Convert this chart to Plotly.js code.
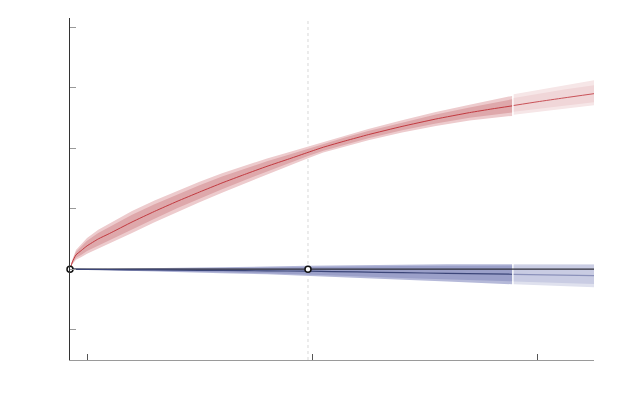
<!DOCTYPE html>
<html>
<head>
<meta charset="utf-8">
<script src="https://cdn.plot.ly/plotly-3.0.1.min.js"></script>
<style>html,body{margin:0;padding:0;background:#fff;}#chart{width:623px;height:415px;}</style>
</head>
<body>
<div id="chart"></div>
<script>
// ---- data ----
const redX = [-7.56, -6.5, -4.9, -2.5, 0, 5, 10, 20, 30, 40, 50, 60, 70, 80, 90, 98.2, 105, 115, 125, 140, 155, 170, 180, 188.9];
const redMedian = [0, 0.12, 0.236, 0.31, 0.385, 0.50, 0.59, 0.78, 0.955, 1.12, 1.275, 1.425, 1.565, 1.70, 1.825, 1.93, 2.015, 2.122, 2.223, 2.359, 2.481, 2.587, 2.648, 2.698];
const redUpperOuter = [0, 0.16, 0.316, 0.42, 0.515, 0.65, 0.755, 0.96, 1.135, 1.295, 1.445, 1.585, 1.71, 1.83, 1.935, 2.025, 2.103, 2.21, 2.315, 2.459, 2.596, 2.717, 2.798, 2.863];
const redLowerOuter = [0, 0.08, 0.156, 0.20, 0.255, 0.35, 0.425, 0.60, 0.775, 0.945, 1.105, 1.265, 1.42, 1.57, 1.715, 1.835, 1.927, 2.034, 2.131, 2.259, 2.366, 2.457, 2.498, 2.533];
const redUpperInner = [0, 0.145, 0.286, 0.38, 0.47, 0.60, 0.70, 0.90, 1.075, 1.235, 1.385, 1.53, 1.66, 1.785, 1.895, 1.99, 2.072, 2.179, 2.283, 2.424, 2.556, 2.672, 2.748, 2.808];
const redLowerInner = [0, 0.095, 0.186, 0.24, 0.30, 0.40, 0.48, 0.66, 0.835, 1.005, 1.165, 1.32, 1.47, 1.615, 1.755, 1.87, 1.958, 2.065, 2.163, 2.294, 2.406, 2.502, 2.548, 2.588];

const redFcX = [189.6, 200, 212, 225.3];
const redFcMedian = [2.705, 2.765, 2.83, 2.90];
const redFcUpperOuter = [2.89, 2.96, 3.04, 3.12];
const redFcLowerOuter = [2.55, 2.595, 2.65, 2.71];
const redFcUpperInner = [2.83, 2.895, 2.97, 3.04];
const redFcLowerInner = [2.60, 2.645, 2.70, 2.76];

const blueX = [-7.56, 0, 20, 40, 60, 80, 98.2, 120, 140, 160, 188.9];
const blueMedian = [0, -0.003, -0.01, -0.015, -0.021, -0.027, -0.033, -0.045, -0.057, -0.068, -0.083];
const blueUpperOuter = [0, 0.003, 0.01, 0.018, 0.03, 0.044, 0.058, 0.068, 0.075, 0.08, 0.083];
const blueLowerOuter = [0, -0.01, -0.028, -0.045, -0.065, -0.085, -0.105, -0.14, -0.175, -0.205, -0.248];
const blueUpperInner = [0, 0.001, 0.005, 0.01, 0.018, 0.028, 0.038, 0.046, 0.052, 0.057, 0.06];
const blueLowerInner = [0, -0.007, -0.022, -0.037, -0.052, -0.068, -0.085, -0.115, -0.145, -0.17, -0.2];

const blueFcX = [189.6, 225.3];
const blueFcMedian = [-0.084, -0.106];
const blueFcUpperOuter = [0.085, 0.088];
const blueFcLowerOuter = [-0.25, -0.298];
const blueFcUpperInner = [0.065, 0.07];
const blueFcLowerInner = [-0.205, -0.245];

const baselineX = [-7.56, 225.3];
const baselineY = [0, 0];
const markerX = [-7.56, 98.2];
const markerY = [0, 0];
const refX = 98.2;

const xTicks = [0, 100, 200];
const yTicks = [-1, 0, 1, 2, 3, 4];

// ---- helpers ----
function band(x, up, lo, color) {
  return {
    x: x.concat(x.slice().reverse()),
    y: up.concat(lo.slice().reverse()),
    type: 'scatter', mode: 'lines', fill: 'toself',
    fillcolor: color, line: {width: 0}, hoverinfo: 'skip', showlegend: false
  };
}
function line(x, y, color, w) {
  return {x: x, y: y, type: 'scatter', mode: 'lines', line: {color: color, width: w, shape: 'spline', smoothing: 0.5}, showlegend: false, hoverinfo: 'skip'};
}

const traces = [
  band(redX, redUpperOuter, redLowerOuter, '#edcbcd'),
  band(redX, redUpperInner, redLowerInner, '#dea8ab'),
  band(redFcX, redFcUpperOuter, redFcLowerOuter, '#f6e6e7'),
  band(redFcX, redFcUpperInner, redFcLowerInner, '#f0d6d8'),
  band(blueX, blueUpperOuter, blueLowerOuter, '#b5b9d9'),
  band(blueX, blueUpperInner, blueLowerInner, '#9ba0c9'),
  band(blueFcX, blueFcUpperOuter, blueFcLowerOuter, '#dfe1ee'),
  band(blueFcX, blueFcUpperInner, blueFcLowerInner, '#c9cce3'),
  line(baselineX, baselineY, '#2e2e38', 1.2),
  line(blueX, blueMedian, '#3c4679', 1.2),
  line(blueFcX, blueFcMedian, '#8b91ba', 1.2),
  line(redX, redMedian, '#c2393f', 1),
  line(redFcX, redFcMedian, '#c95258', 1),
  {x: markerX, y: markerY, type: 'scatter', mode: 'markers',
   marker: {size: 6, color: '#ffffff', line: {color: '#111111', width: 1.5}},
   showlegend: false, hoverinfo: 'skip', cliponaxis: false}
];

const layout = {
  width: 623, height: 415,
  margin: {l: 70, r: 29, t: 18, b: 55},
  paper_bgcolor: '#ffffff', plot_bgcolor: '#ffffff',
  showlegend: false,
  xaxis: {
    range: [-7.56, 225.3], showgrid: false, zeroline: false,
    showline: true, linecolor: '#9a9a9a', linewidth: 1.2,
    ticks: 'inside', ticklen: 6, tickcolor: '#555555', tickwidth: 1,
    tickvals: xTicks, showticklabels: false
  },
  yaxis: {
    range: [-1.5, 4.15], showgrid: false, zeroline: false,
    showline: true, linecolor: '#333333', linewidth: 1.2,
    ticks: 'inside', ticklen: 6, tickcolor: '#999999', tickwidth: 1,
    tickvals: yTicks, showticklabels: false
  },
  shapes: [{
    type: 'line', xref: 'x', yref: 'paper', x0: refX, x1: refX, y0: 0, y1: 1,
    line: {color: '#d8d8d8', width: 1, dash: 'dot'}, layer: 'below'
  }]
};

Plotly.newPlot('chart', traces, layout, {staticPlot: true, displayModeBar: false});
</script>
</body>
</html>
